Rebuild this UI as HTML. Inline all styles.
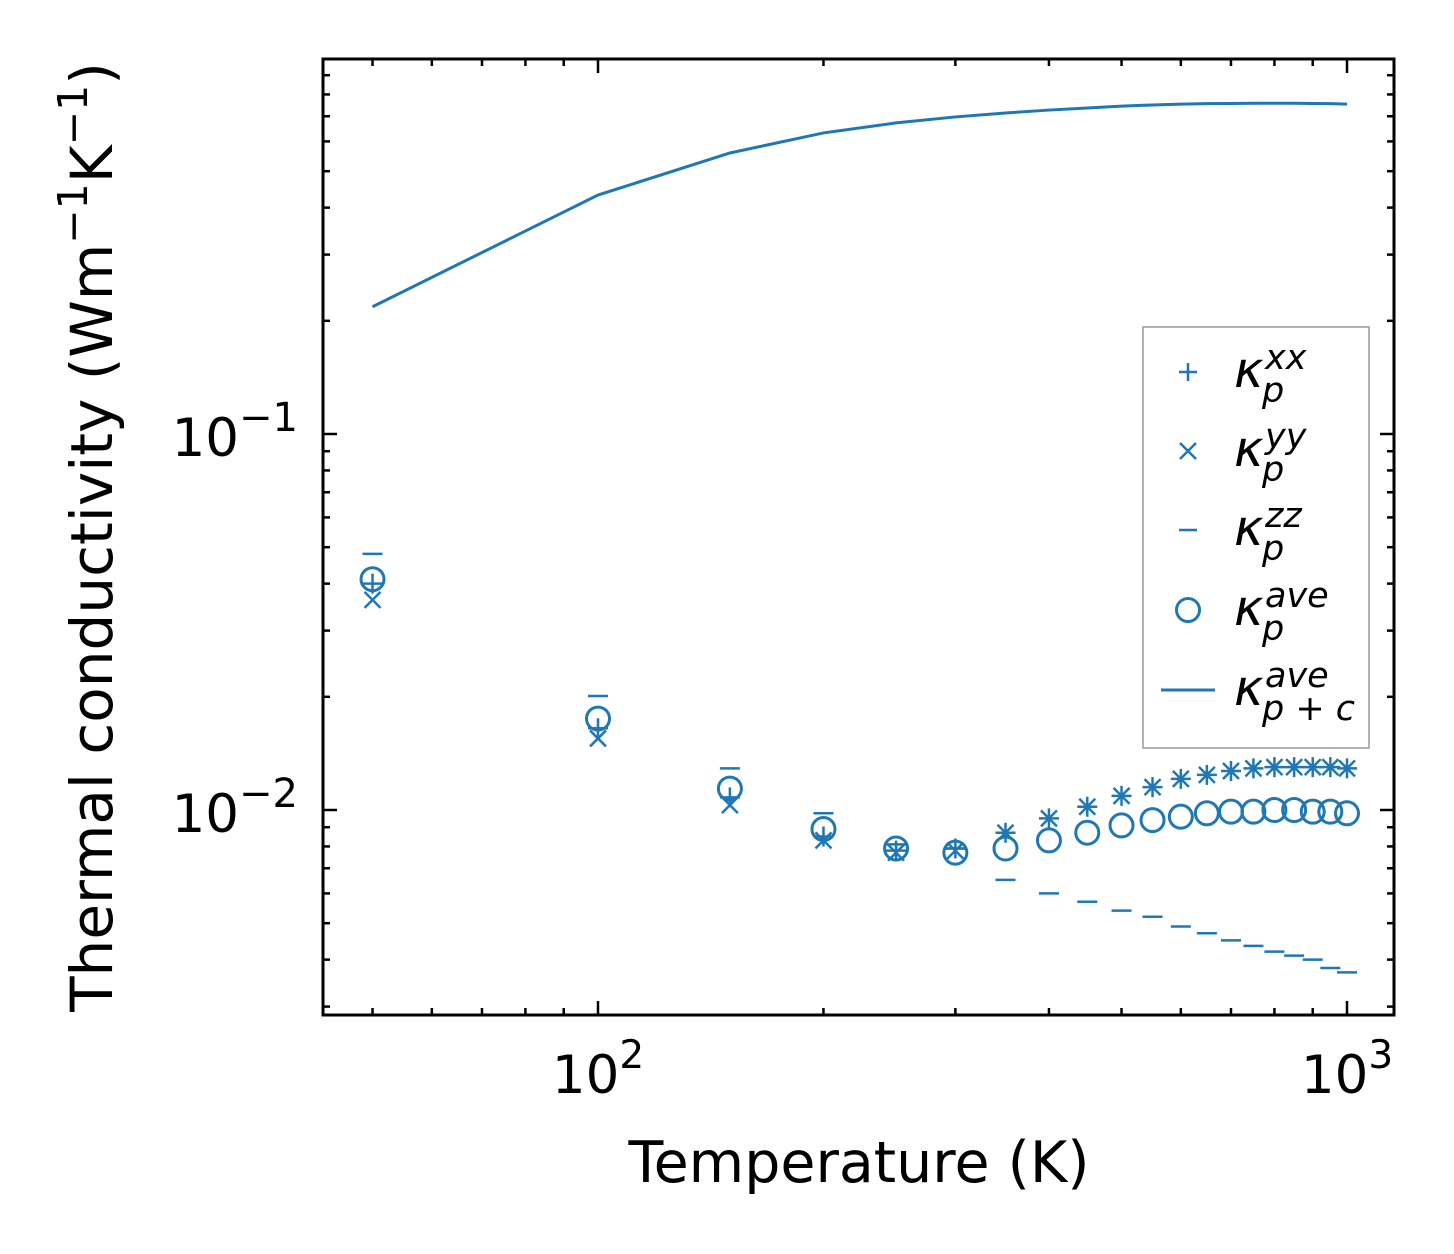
<!DOCTYPE html>
<html><head><meta charset="utf-8"><style>
html,body{margin:0;padding:0;background:#fff;}
svg{display:block;font-family:"DejaVu Sans","Liberation Sans",sans-serif;}
</style></head><body>
<svg id="chart" width="1454" height="1254" viewBox="0 0 1454 1254" xmlns="http://www.w3.org/2000/svg">
<g id="grid-ticks"></g>
<g id="marks"></g>
<rect x="323" y="59" width="1071" height="956" fill="none" stroke="#000" stroke-width="3"/>
<text x="598" y="1093" font-size="53" text-anchor="middle">10<tspan dy="-25" font-size="39">2</tspan></text>
<text x="1347" y="1093" font-size="53" text-anchor="middle">10<tspan dy="-25" font-size="39">3</tspan></text>
<text x="298" y="456" font-size="53" text-anchor="end">10<tspan dy="-25" font-size="40">−1</tspan></text>
<text x="298" y="832" font-size="53" text-anchor="end">10<tspan dy="-25" font-size="40">−2</tspan></text>
<text x="859" y="1182" font-size="57" text-anchor="middle">Temperature (K)</text>
<text transform="translate(112,537) rotate(-90)" font-size="58" text-anchor="middle">Thermal conductivity (Wm<tspan dy="-25" font-size="41">−1</tspan><tspan dy="25">K</tspan><tspan dy="-25" font-size="41">−1</tspan><tspan dy="25">)</tspan></text>
<g>
<rect x="1143" y="327" width="226" height="421" fill="#fff" stroke="#999" stroke-width="1.5"/>
<g id="legend-items"></g>
</g>
</svg>
<script>
const temps=[50,100,150,200,250,300,350,400,450,500,550,600,650,700,750,800,850,900,950,1000];
const kxx=[0.040,0.0165,0.0108,0.0085,0.0078,0.0079,0.0087,0.0095,0.0102,0.0109,0.0115,0.0121,0.0124,0.0127,0.0129,0.0130,0.0130,0.0130,0.0130,0.0129];
const kyy=[0.0362,0.0155,0.0103,0.0083,0.0077,0.0078,0.0087,0.0095,0.0102,0.0109,0.0115,0.0121,0.0124,0.0127,0.0129,0.0130,0.0130,0.0130,0.0130,0.0129];
const kzz=[0.048,0.0201,0.0129,0.0098,0.0081,0.0079,0.00652,0.0060,0.0057,0.0054,0.0052,0.0049,0.0047,0.0045,0.00435,0.0042,0.0041,0.0040,0.0038,0.0037];
const kave=[0.0411,0.0175,0.0114,0.0089,0.0079,0.0077,0.0079,0.0083,0.0087,0.0091,0.0094,0.0096,0.0098,0.0099,0.0099,0.0100,0.0100,0.0099,0.0099,0.0098];
const ktot=[0.218,0.432,0.559,0.632,0.672,0.697,0.714,0.727,0.736,0.745,0.750,0.754,0.756,0.757,0.758,0.758,0.758,0.757,0.756,0.754];
const C="#1f77b4",NS="http://www.w3.org/2000/svg";
const X0=323,X1=1394,Y0=59,Y1=1015;
function xs(t){return 598+749*Math.log10(t/100);}
function ys(v){return 434-376*Math.log10(v/0.1);}
function mk(tag,a,parent){const e=document.createElementNS(NS,tag);for(const k in a)e.setAttribute(k,a[k]);parent.appendChild(e);return e;}
const ticks=document.getElementById('grid-ticks');
function tick(x1,y1,x2,y2){const l=mk('line',{x1,y1,x2,y2,stroke:'#000','stroke-width':2.5},ticks);

}
[50,60,70,80,90,100,200,300,400,500,600,700,800,900,1000].forEach(t=>{const x=xs(t);if(x<X0||x>X1)return;const L=(t===100||t===1000)?14:7;tick(x,Y1,x,Y1-L);tick(x,Y0,x,Y0+L);});
[0.003,0.004,0.005,0.006,0.007,0.008,0.009,0.01,0.02,0.03,0.04,0.05,0.06,0.07,0.08,0.09,0.1,0.2,0.3,0.4,0.5,0.6,0.7,0.8,0.9].forEach(v=>{const y=ys(v);if(y<Y0||y>Y1)return;const L=(v===0.01||v===0.1)?14:7;tick(X0,y,X0+L,y);tick(X1,y,X1-L,y);});
const g=document.getElementById('marks');
function plus(x,y,p,s){return mk('path',{d:`M${x-s} ${y}H${x+s}M${x} ${y-s}V${y+s}`,stroke:C,'stroke-width':2.5,fill:'none'},p);}
function cross(x,y,p,s){return mk('path',{d:`M${x-s} ${y-s}L${x+s} ${y+s}M${x-s} ${y+s}L${x+s} ${y-s}`,stroke:C,'stroke-width':2.5,fill:'none'},p);}
function dash(x,y,p,s){return mk('path',{d:`M${x-s} ${y}H${x+s}`,stroke:C,'stroke-width':2.5},p);}
function circ(x,y,p,r){return mk('circle',{cx:x,cy:y,r:r,stroke:C,'stroke-width':3,fill:'none'},p);}
let d='';temps.forEach((t,i)=>{d+=(i?'L':'M')+xs(t)+' '+ys(ktot[i]);});
const line=mk('path',{d:d,stroke:C,'stroke-width':3,fill:'none'},g);


temps.forEach((t,i)=>{const x=xs(t);
const a=plus(x,ys(kxx[i]),g,10);


const b=cross(x,ys(kyy[i]),g,8);


const c=dash(x,ys(kzz[i]),g,10);


const e=circ(x,ys(kave[i]),g,11.5);


});
const li=document.getElementById('legend-items');
const lx=1188,ly=[372,451,530,610,690];
plus(lx,ly[0],li,9);cross(lx,ly[1],li,8);dash(lx,ly[2],li,9);circ(lx,ly[3],li,11.5);
mk('path',{d:`M1161 ${ly[4]}H1215`,stroke:C,'stroke-width':3},li);
const subs=[['xx','p'],['yy','p'],['zz','p'],['ave','p'],['ave','p + c']];
subs.forEach((s,i)=>{const t=mk('text',{x:1234,y:ly[i]+15,'font-size':50,'font-style':'italic'},li);


t.innerHTML=`κ<tspan x="1265" dy="-18" font-size="35">${s[0]}</tspan><tspan x="1262" dy="33" font-size="35">${s[1]}</tspan>`;});
</script>
</body></html>
